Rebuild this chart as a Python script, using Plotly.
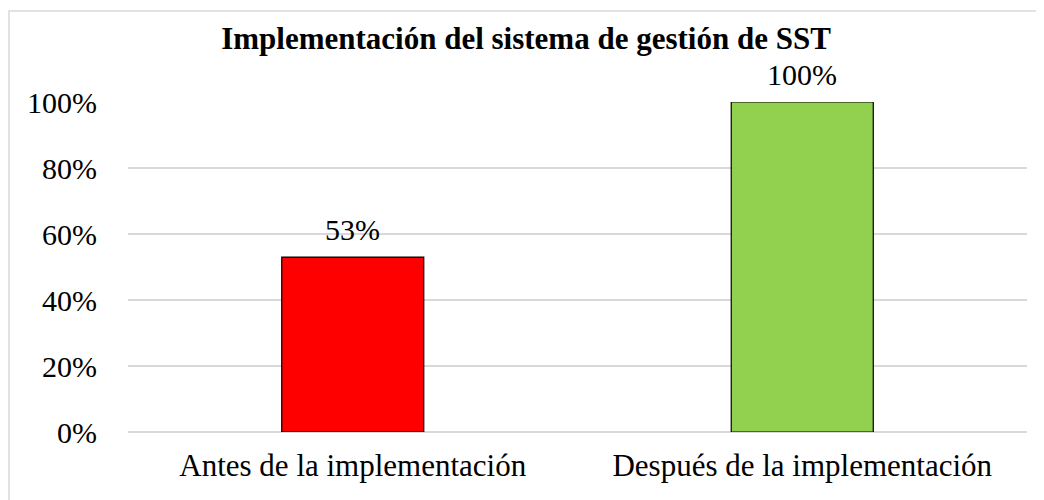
import plotly.graph_objects as go

categories = ["Antes de la implementación", "Después de la implementación"]
values = [0.53, 1.00]
labels = ["53%", "100%"]
colors = ["#FF0000", "#92D050"]
tick_vals = [0, 0.2, 0.4, 0.6, 0.8, 1.0]
tick_text = ["0%", "20%", "40%", "60%", "80%", "100%"]
title = "<b>Implementación del sistema de gestión de SST</b>"

FONT = "Liberation Serif, Times New Roman, serif"

fig = go.Figure()
fig.add_trace(go.Bar(
    x=categories, y=values,
    marker=dict(color=colors, line=dict(color="#000000", width=1.2)),
    width=0.316, cliponaxis=False, hoverinfo="x+y",
))

for c, v, t in zip(categories, values, labels):
    fig.add_annotation(x=c, y=v, text=t, showarrow=False, yanchor="bottom",
                       yshift=9, font=dict(family=FONT, size=30, color="#000000"))

# page has an 8px body margin; size figure to fit viewport
W, H = 1036, 492
ml, mr, mt, mb = 120, 17, 94, 68
pw, ph = W - ml - mr, H - mt - mb

fig.update_layout(
    width=W, height=H,
    margin=dict(l=ml, r=mr, t=mt, b=mb),
    paper_bgcolor="white", plot_bgcolor="white",
    showlegend=False,
    font=dict(family=FONT, size=30, color="#000000"),
    title=dict(text=title, x=0.5, xanchor="center", y=1 - 30 / H, yanchor="middle",
               font=dict(family=FONT, size=31, color="#000000")),
    xaxis=dict(showgrid=False, showline=False, zeroline=False, ticks="",
               ticklabelstandoff=12, tickfont=dict(family=FONT, size=31)),
    yaxis=dict(range=[0, 1], tickvals=tick_vals, ticktext=tick_text,
               showgrid=True, gridcolor="#D9D9D9", gridwidth=1.5,
               zeroline=True, zerolinecolor="#D9D9D9", zerolinewidth=1.5,
               showline=False, ticks="", ticklabelstandoff=30,
               tickfont=dict(family=FONT, size=30)),
    shapes=[dict(type="rect", xref="paper", yref="paper",
                 x0=(1 - ml) / pw, x1=(W + 10 - ml) / pw,
                 y0=-(H + 10 - mt - ph) / ph, y1=(H - mb - 3) / ph,
                 line=dict(color="#D9D9D9", width=1.5), fillcolor="rgba(0,0,0,0)",
                 layer="below")],
)

fig.write_html("out.html")
